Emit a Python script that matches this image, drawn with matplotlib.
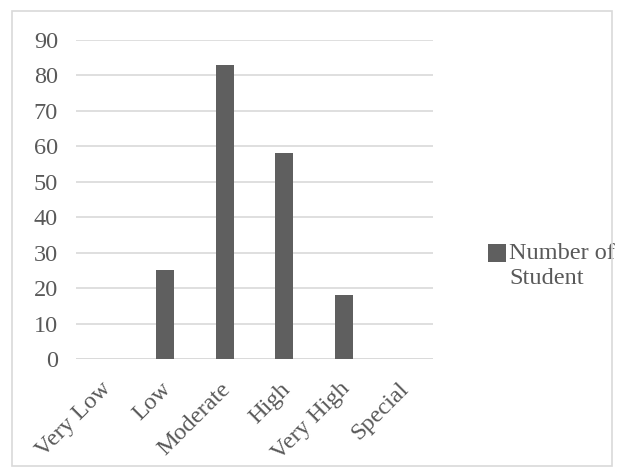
import matplotlib.pyplot as plt
import matplotlib.transforms as mtransforms
import numpy as np
from matplotlib.patches import Rectangle
from matplotlib.container import BarContainer
from matplotlib.legend_handler import HandlerPatch

# dados
categorias = ['Very Low', 'Low', 'Moderate', 'High', 'Very High', 'Special']
num_alunos = [0, 25, 83, 58, 18, 0]
yticks = np.arange(0, 100, 10)

cor_barra = '#5f5f5f'
cor_texto = '#595959'
cor_grade = '#d9d9d9'

plt.rcParams['font.family'] = ['Liberation Serif', 'DejaVu Serif']

fig = plt.figure(figsize=(6.22, 4.76), dpi=100)
ax = fig.add_axes([76 / 622, 1 - 359 / 476, (433 - 76) / 622, (359 - 40) / 476])

x = np.arange(len(categorias))
ax.bar(x, num_alunos, width=0.30, color=cor_barra, zorder=3, label='Number of\nStudent')

ax.set_xlim(-0.5, len(categorias) - 0.5)
ax.set_ylim(0, 90)
ax.set_yticks(yticks)
ax.yaxis.grid(True, color=cor_grade, linewidth=1.2, zorder=0)
for s in ax.spines.values():
    s.set_visible(False)
ax.axhline(0, color=cor_grade, linewidth=1.2, zorder=2)

ax.set_xticks(x)
ax.set_xticklabels(categorias, rotation=45, ha='right', rotation_mode='anchor')
ax.tick_params(axis='both', length=0, colors=cor_texto, labelsize=17.5)
ax.tick_params(axis='y', pad=13)
ax.tick_params(axis='x', pad=14)

# puxa os rótulos do eixo x um pouco para a esquerda
desloc = mtransforms.ScaledTranslation(-5 / 100, 0, fig.dpi_scale_trans)
for lbl in ax.get_xticklabels():
    lbl.set_transform(lbl.get_transform() + desloc)


# quadradinho da legenda alinhado com a primeira linha do texto
def quadrado_topo(legend, orig_handle, xdescent, ydescent, width, height, fontsize):
    return Rectangle((-xdescent, -ydescent + 9), width, height)


def copia_estilo(handle, orig):
    handle.update_from(orig.patches[0])


leg = ax.legend(loc='center left', bbox_to_anchor=(488 / 622, 1 - 266 / 476),
                bbox_transform=fig.transFigure, frameon=False, fontsize=17.5,
                borderpad=0, borderaxespad=0,
                handlelength=0.72, handleheight=0.72, handletextpad=0.15,
                labelspacing=0.2,
                handler_map={BarContainer: HandlerPatch(patch_func=quadrado_topo,
                                                        update_func=copia_estilo)})
for t in leg.get_texts():
    t.set_color(cor_texto)
    t.set_linespacing(1.3)

# borda externa
fig.patches.append(Rectangle((12 / 622, 1 - 466 / 476), (612 - 12) / 622, (466 - 11) / 476,
                             transform=fig.transFigure, fill=False,
                             edgecolor='#d9d9d9', linewidth=1.2))

plt.savefig('out.png', dpi=100)
